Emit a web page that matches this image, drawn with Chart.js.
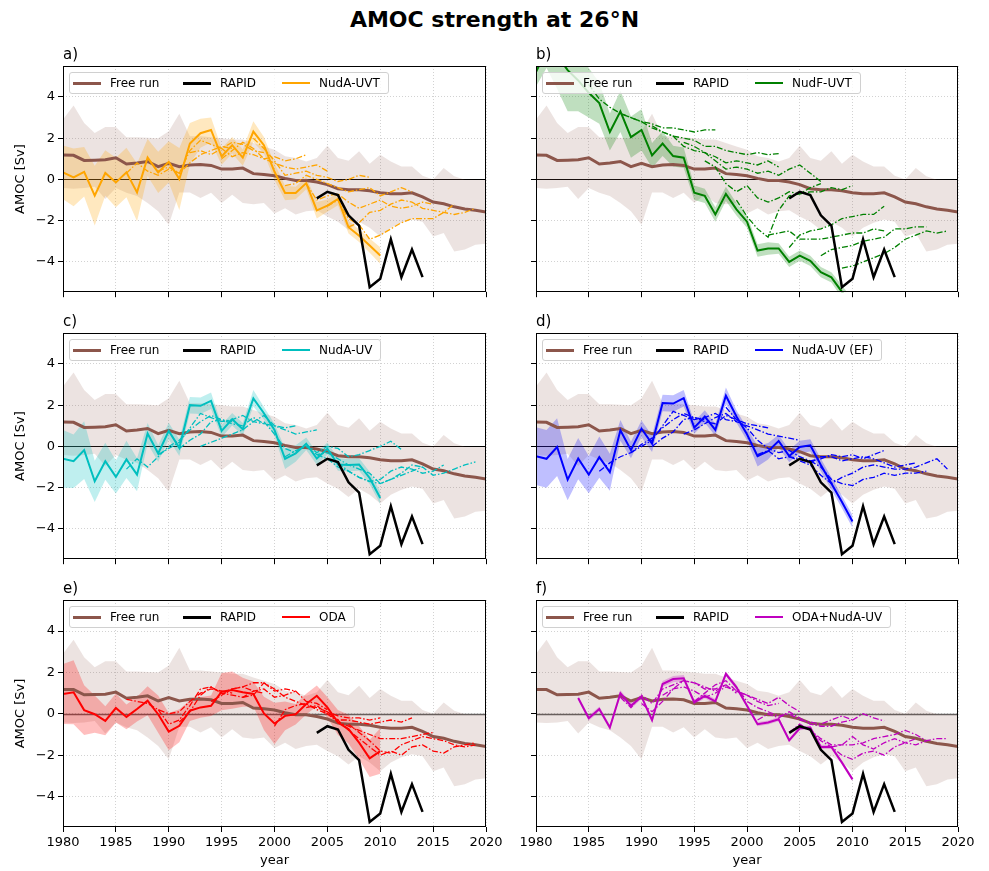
<!DOCTYPE html>
<html>
<head>
<meta charset="utf-8">
<script src="https://cdn.jsdelivr.net/npm/chart.js@4.4.0/dist/chart.umd.min.js"></script>
<style>
  body { margin: 0; background: #fff; width: 989px; height: 871px; position: relative; overflow: hidden;
         font-family: "DejaVu Sans", sans-serif; color: #000; }
  canvas { position: absolute; }
  .suptitle { position: absolute; left: 0; width: 989px; top: 7px; text-align: center;
              font-weight: bold; font-size: 22px; line-height: 26px; }
  .letter { position: absolute; font-size: 15px; line-height: 18px; }
  .legend { position: absolute; height: 22px; box-sizing: border-box; display: flex; align-items: center;
            padding: 0 8px 0 3px; border: 1px solid #d0d0d0; border-radius: 3px;
            background: rgba(255,255,255,0.8); font-size: 12px; white-space: nowrap; }
  .item { display: flex; align-items: center; }
  .sw { width: 28px; margin-right: 9px; }
</style>
</head>
<body>
<div class="suptitle">AMOC strength at 26°N</div>
<script>
// ── data (Sv anomalies) ───────────────────────────────────────────────────
const X_TICKS = [1980, 1985, 1990, 1995, 2000, 2005, 2010, 2015, 2020];
const Y_TICKS = [-4, -2, 0, 2, 4];

// free run ensemble mean + spread, 1980..2020
const freeRun = [1.18, 1.17, 0.92, 0.93, 0.95, 1.05, 0.75, 0.80, 0.87, 0.62, 0.78, 0.62, 0.70, 0.72, 0.68,
                 0.50, 0.50, 0.55, 0.28, 0.24, 0.18, 0.05, -0.05, -0.05, -0.13, -0.25, -0.45, -0.50, -0.50,
                 -0.55, -0.65, -0.70, -0.70, -0.65, -0.85, -1.10, -1.18, -1.33, -1.43, -1.50, -1.58];
const freeHi  = [2.9, 3.58, 2.73, 2.25, 2.54, 2.54, 2.05, 2.05, 2.02, 2.0, 2.33, 3.19, 2.09, 2.09, 2.05,
                 2.0, 1.93, 1.93, 1.76, 1.6, 1.44, 1.12, 1.04, 0.87, 1.04, 1.63, 1.04, 0.9, 1.36, 0.76,
                 1.2, 0.87, 0.63, 0.63, 0.18, 0.0, 0.55, 0.15, -0.02, -0.03, -0.03];
const freeLo  = [-0.42, -0.45, -0.42, -0.35, -0.95, -0.42, -0.65, -0.8, -1.15, -1.55, -2.2, -0.63, -0.63,
                 -0.9, -0.65, -1.15, -0.75, -1.15, -1.2, -1.15, -1.65, -1.4, -1.7, -1.55, -1.5, -1.8,
                 -2.05, -2.45, -2.05, -2.35, -2.77, -2.35, -2.1, -1.95, -2.05, -2.77, -2.6, -3.5, -3.4,
                 -3.17, -3.12];

// RAPID array, 2004..2014
const rapidStart = 2004;
const rapid = [-0.92, -0.6, -0.76, -1.74, -2.24, -5.23, -4.82, -2.9, -4.74, -3.4, -4.74];

// assimilation runs (1980..2010, f from 1984) and their ensemble spread
const mainA = [0.34, 0.1, 0.37, -0.79, 0.31, -0.15, 0.34, -0.63, 1.06, 0.34, 0.85, 0.02, 1.74, 2.24, 2.4,
               1.11, 1.66, 1.06, 2.32, 1.66, 0.37, -0.66, -0.66, -0.18, -1.5, -1.27, -0.95, -2.32, -2.73,
               -3.21, -3.69];
const spreadA = [1.3, 1.4, 1.2, 1.45, 1.1, 1.2, 1.2, 1.4, 0.9, 1.0, 1.0, 1.5, 1.0, 0.7, 0.6, 0.4, 0.4, 0.4,
                 0.5, 0.4, 0.4, 0.35, 0.3, 0.3, 0.4, 0.3, 0.3, 0.3, 0.3, 0.35, 0.4];
const mainB = [5.2, 6.3, 6.0, 5.3, 4.8, 4.2, 3.7, 2.3, 3.3, 2.05, 2.4, 1.16, 1.74, 1.13, 1.05, -0.65, -0.8,
               -1.7, -0.7, -1.45, -2.05, -3.45, -3.35, -3.35, -4.0, -3.7, -3.95, -4.5, -4.75, -5.45, -6.1];
const spreadB = [0.7, 0.9, 1.6, 2.0, 1.5, 1.2, 1.0, 0.9, 1.0, 1.0, 1.0, 0.6, 0.6, 0.5, 0.5, 0.35, 0.35,
                 0.35, 0.35, 0.3, 0.3, 0.3, 0.3, 0.25, 0.25, 0.25, 0.25, 0.25, 0.25, 0.3, 0.3];
const mainC = [-0.6, -0.72, -0.18, -1.69, -0.72, -1.48, -0.63, -1.37, 0.63, -0.34, 0.75, -0.07, 2.0, 1.97,
               2.21, 0.75, 1.32, 0.83, 2.33, 1.61, 0.8, -0.6, -0.34, 0.13, -0.59, -0.11, -0.88, -0.9,
               -0.88, -1.53, -2.5];
const spreadC = [1.4, 1.3, 1.4, 1.0, 0.9, 0.8, 0.9, 0.8, 0.5, 0.4, 0.4, 0.4, 0.4, 0.4, 0.4, 0.3, 0.3, 0.3,
                 0.4, 0.3, 0.3, 0.5, 0.4, 0.3, 0.3, 0.3, 0.3, 0.3, 0.3, 0.3, 0.3];
const mainD = [-0.47, -0.6, -0.03, -1.61, -0.59, -1.37, -0.52, -1.25, 0.78, -0.18, 0.86, 0.13, 2.1, 2.08,
               2.34, 0.91, 1.45, 0.8, 2.46, 1.45, 0.59, -0.47, -0.23, 0.26, -0.47, -0.03, 0.05, -0.9,
               -1.8, -2.7, -3.64];
const spreadD = [1.4, 1.4, 1.4, 1.0, 1.0, 0.9, 1.0, 0.9, 0.5, 0.4, 0.4, 0.4, 0.4, 0.4, 0.4, 0.3, 0.3, 0.3,
                 0.4, 0.3, 0.3, 0.5, 0.4, 0.3, 0.3, 0.3, 0.3, 0.3, 0.3, 0.3, 0.3];
const mainE = [0.96, 1.04, 0.18, -0.02, -0.34, 0.28, -0.15, 0.23, 0.63, -0.02, -0.86, -0.58, 0.15, 0.31,
               0.39, 1.07, 1.15, 1.04, 0.96, 0.02, -0.47, -0.1, -0.02, 0.47, 0.87, 0.31, -0.42, -0.74,
               -1.39, -2.15, -1.8];
const spreadE = [1.45, 1.55, 1.2, 0.9, 0.7, 0.7, 0.6, 0.6, 0.7, 0.9, 0.9, 0.8, 0.5, 0.5, 0.5, 0.9, 0.9,
                 0.7, 0.6, 0.8, 1.0, 0.7, 0.5, 0.5, 0.5, 0.5, 0.6, 0.7, 0.8, 0.9, 1.1];
const mainF = [0.76, -0.21, 0.23, -0.66, 0.99, 0.39, 0.83, -0.31, 1.44, 1.68, 1.72, 0.55, 0.87, 0.6, 1.93,
               1.28, 0.39, -0.5, -0.42, -0.26, -1.28, -0.7, -0.66, -1.6, -1.6, -2.36, -3.17];
const spreadF = [0.1, 0.12, 0.12, 0.12, 0.15, 0.15, 0.12, 0.12, 0.15, 0.15, 0.15, 0.12, 0.12, 0.12, 0.12,
                 0.12, 0.1, 0.1, 0.1, 0.1, 0.1, 0.1, 0.1, 0.1, 0.1, 0.1, 0.1];

// hindcasts: [start year, values...]
const hindA = [
  [1986, 0.3, 0.8, 0.4, 0.2, 0.5, 0.3, 0.8, 1.2, 1.4, 1.6, 1.5],
  [1989, 0.4, 0.6, 0.3, 1.4, 1.9, 1.7, 1.5, 1.8, 1.7, 1.4, 1.3],
  [1992, 1.3, 1.4, 1.2, 1.5, 1.1, 1.3, 1.2, 1.0, 1.1, 0.9, 1.0, 1.2],
  [1995, 1.0, 1.4, 1.8, 1.5, 1.0, 0.8, 0.6, 0.5, 0.6, 0.7, 0.4],
  [1998, 2.0, 1.5, 0.9, 0.2, 0.3, 0.4, 0.2, 0.1, -0.1, 0.0, 0.2, 0.1],
  [2001, -0.3, -0.2, 0.2, 0.0, -0.2, -0.4, -0.6, -0.5, -0.4, -0.8, -0.6, -0.4, -0.6],
  [2003, -0.2, -1.0, -0.8, -0.7, -1.1, -1.4, -1.2, -1.0, -1.3, -1.4, -1.3, -1.1, -1.2],
  [2005, -1.3, -1.0, -1.9, -2.2, -2.9, -2.7, -2.4, -2.1, -1.9, -1.9, -1.9, -1.6, -1.2],
  [2007, -2.3, -2.1, -1.6, -1.5, -1.2, -1.0, -1.1, -1.4, -1.5, -1.6, -1.7, -1.6, -1.4]
];
const hindB = [
  [1985, 4.6, 3.9, 3.5, 3.2, 3.0, 2.8, 2.7, 2.5, 2.5, 2.4, 2.3, 2.4, 2.4],
  [1988, 3.2, 3.0, 2.8, 2.5, 2.3, 2.1, 2.0, 1.9, 1.6, 1.6, 1.4, 1.3, 1.2, 1.3, 1.2, 1.25],
  [1991, 2.6, 2.3, 2.1, 1.6, 1.4, 1.3, 1.1, 0.8, 0.9, 0.8, 0.7, 0.9, 0.6],
  [1994, 1.8, 1.6, 1.3, 0.9, 0.5, 0.6, 0.5, 0.3, 0.4, 0.2, 0.5, 0.7, 0.3, -0.1],
  [1996, 0.9, 0.6, -0.2, -0.6, -0.3, -0.9, -1.1, -0.9, -0.6, -0.7, -0.4, -0.2],
  [1999, -1.0, -1.8, -2.4, -2.8, -1.5, -0.8, -0.7, -0.6, -0.6, -0.4, -0.5, -0.3],
  [2002, -2.7, -2.6, -2.5, -2.9, -2.9, -2.9, -2.8, -2.7, -2.6, -2.6, -2.4, -2.5],
  [2004, -3.3, -2.7, -2.5, -2.4, -2.2, -1.9, -1.8, -1.7, -1.7, -1.3],
  [2007, -3.7, -3.4, -3.3, -3.2, -3.0, -2.9, -2.8, -2.4, -2.4, -2.3, -2.3],
  [2009, -4.3, -4.2, -4.0, -3.8, -3.6, -3.3, -2.9, -2.7, -2.5, -2.6, -2.5]
];
const hindC = [
  [1986, -1.1, -0.6, -1.0, -0.5, 0.0, 0.3, 0.8, 1.2, 1.5, 1.3, 1.2],
  [1989, -0.4, -0.1, 0.2, 0.9, 1.6, 1.4, 1.2, 1.3, 1.5, 1.2, 1.1],
  [1991, -0.1, 0.3, 0.6, 1.2, 1.3, 1.1, 1.0, 1.4, 1.1, 1.0, 0.9, 1.0],
  [1993, 0.0, 0.2, 0.4, 0.6, 0.8, 1.2, 1.5, 1.0, 0.8, 0.6, 0.7, 0.8],
  [1999, 1.2, 0.6, -0.1, -0.3, 0.1, -0.3, 0.0, -0.1, -0.5, -0.4, -0.2, 0.0, 0.25, -0.15],
  [2001, -0.5, -0.2, 0.0, -0.4, -0.3, -0.6, -0.9, -1.1, -1.3, -1.8, -1.6, -1.3, -0.9, -1.0],
  [2004, -0.4, -0.6, -1.0, -1.2, -1.5, -1.7, -1.6, -1.2, -1.0, -1.1, -1.3, -1.2, -0.9],
  [2006, -0.8, -1.2, -1.5, -1.7, -1.8, -1.6, -1.4, -1.2, -1.0, -1.4, -1.3, -1.1, -0.9, -0.75]
];
const hindD = [
  [1986, -1.2, -0.8, -0.5, -0.3, 0.1, 0.4, 0.9, 1.3, 1.6, 1.4, 1.3],
  [1989, -0.3, 0.0, 0.3, 1.0, 1.7, 1.5, 1.3, 1.4, 1.6, 1.3, 1.2],
  [1991, 0.0, 0.4, 0.7, 1.3, 1.4, 1.2, 1.1, 1.5, 1.3, 1.1, 1.0, 0.9],
  [1994, 0.6, 0.8, 1.1, 1.4, 1.6, 1.2, 1.0, 0.8, 0.6, 0.5, 0.4, 0.3],
  [1998, 1.9, 1.3, 0.9, 0.3, -0.1, -0.3, -0.2, -0.5, -0.7, -0.6, -0.4, -0.5, -0.4, -0.6, -0.4, -0.2],
  [2001, -0.4, -0.2, -0.6, -0.5, -0.6, -0.8, -0.5, -0.5, -0.7, -0.6, -0.5, -0.6, -0.8, -1.0, -0.9, -0.8],
  [2004, -0.5, -0.7, -0.9, -1.4, -1.8, -1.5, -1.3, -1.0, -0.9, -1.0, -1.1, -1.1, -1.0, -0.8, -0.6, -1.1],
  [2006, -0.7, -1.0, -1.6, -1.8, -1.9, -1.6, -1.5, -1.3, -1.4, -1.3, -1.3, -1.2]
];
const hindE = [
  [1986, 0.7, 0.6, 0.5, 0.2, 0.0, 0.1, 0.6, 1.0, 1.2, 1.1, 1.0],
  [1989, 0.2, -0.5, -0.3, 0.4, 1.2, 1.3, 1.0, 1.2, 1.3, 1.1, 1.0],
  [1991, -0.4, 0.1, 0.9, 1.3, 1.0, 0.9, 0.8, 1.1, 1.2, 0.8, 0.9, 1.1],
  [1994, 0.6, 0.9, 1.2, 1.3, 1.5, 1.5, 1.1, 1.2, 1.1, 0.6, 0.5, 0.2],
  [1997, 0.8, 0.9, 1.5, 1.2, 0.8, 0.6, 0.4, 0.3, 0.1, -0.1, -0.2, -0.2, -0.3, -0.2],
  [2000, -0.6, 0.2, 0.4, 0.5, 0.2, 0.0, -0.3, -0.3, -0.4, -0.5, -0.4, -0.3, -0.4, -0.2],
  [2003, 0.3, 0.4, 0.0, -0.4, -0.6, -0.8, -1.0, -1.2, -1.2, -1.2, -1.1, -1.0, -0.9],
  [2005, 0.1, -0.3, -0.8, -1.2, -1.6, -2.0, -1.8, -2.0, -1.6, -1.5, -1.8, -1.9, -1.6, -1.5, -1.4],
  [2007, -0.5, -0.9, -1.3, -1.8, -1.9, -1.5, -1.3, -1.1, -1.2, -1.3, -1.5, -1.6, -1.5]
];
const hindF = [
  [1988, 0.8, 0.3, 0.9, 0.5, 1.2, 1.4, 1.6, 1.5, 1.2, 1.2, 1.4],
  [1990, 0.5, 0.1, 0.6, 1.2, 1.6, 1.5, 1.3, 1.1, 1.4, 1.0],
  [1992, 0.9, 1.2, 1.3, 1.1, 0.8, 1.0, 1.3, 1.1, 0.9, 0.6, 0.4, 0.5],
  [1995, 0.6, 1.0, 1.4, 1.6, 1.1, 0.9, 0.7, 0.5, 0.8, 0.4, 0.1],
  [1998, 1.9, 1.3, 0.6, 0.3, 0.1, -0.1, 0.0, -0.3, -0.4, -0.5, -0.3, -0.1, -0.3],
  [2001, -0.3, 0.0, -0.2, 0.1, -0.2, -0.5, -0.6, -0.6, -0.4, -0.3, 0.0, -0.2, -0.34],
  [2004, -0.9, -0.5, -0.8, -1.2, -1.5, -1.5, -1.5, -1.4, -1.2, -1.1, -1.0, -0.8, -1.0, -1.3, -1.2, -1.2],
  [2006, -0.8, -1.3, -1.6, -2.0, -2.2, -1.9, -1.8, -2.0, -1.6, -1.4, -1.2],
  [2008, -1.6, -1.5, -1.1, -1.5, -1.7, -1.4, -1.2, -1.4, -1.5, -1.3]
];

// ── layout / style ────────────────────────────────────────────────────────
const BROWN = '#8c564b';
const COLS = [
  { left: 0,   width: 520, plotLeft: 63,  yW: 63, padR: 34, labels: true },
  { left: 495, width: 494, plotLeft: 536, yW: 41, padR: 31, labels: false }
];
const ROWS = [
  { top: 40,  plotTop: 66,  xH: 10, labels: false },
  { top: 307, plotTop: 333, xH: 10, labels: false },
  { top: 574, plotTop: 600, xH: 44, labels: true }
];
const PLOT_H = 227, PAD_T = 26;

const PANELS = [
  { letter: 'a)', col: 0, row: 0, name: 'NudA-UVT',     color: '#ffa500', band: 'rgba(255,165,0,0.25)', start: 1980, main: mainA, spread: spreadA, hind: hindA, zero: '#000', zw: 1 },
  { letter: 'b)', col: 1, row: 0, name: 'NudF-UVT',     color: '#008000', band: 'rgba(0,128,0,0.25)',   start: 1980, main: mainB, spread: spreadB, hind: hindB, zero: '#000', zw: 1 },
  { letter: 'c)', col: 0, row: 1, name: 'NudA-UV',      color: '#00bfbf', band: 'rgba(0,191,191,0.25)', start: 1980, main: mainC, spread: spreadC, hind: hindC, zero: '#000', zw: 1 },
  { letter: 'd)', col: 1, row: 1, name: 'NudA-UV (EF)', color: '#0000ff', band: 'rgba(0,0,255,0.25)',   start: 1980, main: mainD, spread: spreadD, hind: hindD, zero: '#000', zw: 1 },
  { letter: 'e)', col: 0, row: 2, name: 'ODA',          color: '#ff0000', band: 'rgba(255,0,0,0.25)',   start: 1980, main: mainE, spread: spreadE, hind: hindE, zero: '#606060', zw: 1.6 },
  { letter: 'f)', col: 1, row: 2, name: 'ODA+NudA-UV',  color: '#bf00bf', band: 'rgba(191,0,191,0.25)', start: 1984, main: mainF, spread: spreadF, hind: hindF, zero: '#606060', zw: 1.6 }
];

Chart.defaults.font.family = '"DejaVu Sans", sans-serif';
Chart.defaults.font.size = 13;
Chart.defaults.color = '#000';

const series = (start, vals) => vals.map((v, i) => ({ x: start + i, y: v }));
const fmt = v => (v < 0 ? '\u2212' + Math.abs(v) : String(v));

// frame + zero line, matplotlib style
const framePlugin = {
  id: 'frame',
  beforeDatasetsDraw(chart, args, opts) {
    const { ctx, chartArea: a, scales: { y } } = chart;
    const y0 = Math.round(y.getPixelForValue(0)) + 0.5;
    ctx.save();
    ctx.strokeStyle = opts.zero;
    ctx.lineWidth = opts.width;
    ctx.beginPath(); ctx.moveTo(a.left, y0); ctx.lineTo(a.right, y0); ctx.stroke();
    ctx.restore();
  },
  afterDatasetsDraw(chart) {
    const { ctx, chartArea: a } = chart;
    ctx.save();
    ctx.strokeStyle = '#000';
    ctx.lineWidth = 1;
    ctx.strokeRect(Math.round(a.left) + 0.5, Math.round(a.top) + 0.5,
                   Math.round(a.right - a.left) - 1, Math.round(a.bottom - a.top) - 1);
    ctx.restore();
  }
};

function buildDatasets(p) {
  const ds = [];
  ds.push({ data: series(rapidStart, rapid), borderColor: '#000', borderWidth: 2.5, order: 1 });
  ds.push({ data: series(p.start, p.main), borderColor: p.color, borderWidth: 2, order: 2 });
  p.hind.forEach(h => ds.push({
    data: series(h[0], h.slice(1)), borderColor: p.color, borderWidth: 1.3,
    borderDash: [6, 2, 1.5, 2], order: 3
  }));
  ds.push({ data: series(1980, freeRun), borderColor: BROWN, borderWidth: 3, order: 4 });
  ds.push({ data: series(p.start, p.main.map((v, i) => v + p.spread[i])), borderWidth: 0,
            backgroundColor: p.band, fill: '+1', order: 5 });
  ds.push({ data: series(p.start, p.main.map((v, i) => v - p.spread[i])), borderWidth: 0, order: 5 });
  ds.push({ data: series(1980, freeHi), borderWidth: 0, backgroundColor: 'rgba(140,86,75,0.17)',
            fill: '+1', order: 6 });
  ds.push({ data: series(1980, freeLo), borderWidth: 0, order: 6 });
  return ds;
}

function addLegend(p, col, row) {
  const box = document.createElement('div');
  box.className = 'legend';
  box.style.left = (col.plotLeft + 6) + 'px';
  box.style.top = (row.plotTop + 6) + 'px';
  const items = [['Free run', BROWN, 3, 110], ['RAPID', '#000', 3, 99], [p.name, p.color, 2, 0]];
  items.forEach(([txt, c, lw, w]) => {
    const it = document.createElement('div');
    it.className = 'item';
    if (w) it.style.width = w + 'px';
    const sw = document.createElement('div');
    sw.className = 'sw';
    sw.style.borderTop = lw + 'px solid ' + c;
    const t = document.createElement('span');
    t.textContent = txt;
    it.appendChild(sw); it.appendChild(t);
    box.appendChild(it);
  });
  document.body.appendChild(box);
}

PANELS.forEach(p => {
  const col = COLS[p.col], row = ROWS[p.row];
  const h = PAD_T + PLOT_H + row.xH;
  const cv = document.createElement('canvas');
  cv.width = col.width; cv.height = h;
  cv.style.left = col.left + 'px'; cv.style.top = row.top + 'px';
  cv.style.width = col.width + 'px'; cv.style.height = h + 'px';
  document.body.appendChild(cv);

  new Chart(cv.getContext('2d'), {
    type: 'line',
    data: { datasets: buildDatasets(p) },
    options: {
      responsive: false,
      animation: false,
      events: [],
      layout: { padding: { left: 0, right: col.padR, top: PAD_T, bottom: 0 } },
      elements: { point: { radius: 0 }, line: { tension: 0, fill: false } },
      plugins: { legend: { display: false }, tooltip: { enabled: false }, frame: { zero: p.zero, width: p.zw } },
      scales: {
        x: {
          type: 'linear', min: 1980, max: 2020,
          afterBuildTicks: s => { s.ticks = X_TICKS.map(v => ({ value: v })); },
          afterFit: s => { s.height = row.xH; },
          ticks: { autoSkip: false, maxRotation: 0, padding: 3, color: '#000',
                   callback: v => (row.labels ? String(v) : '') },
          grid: { color: '#d2d2d2', lineWidth: 1, tickColor: '#000', tickLength: 5, tickWidth: 1 },
          border: { display: false, dash: [1, 2] },
          title: { display: row.labels, text: 'year', color: '#000', padding: { top: 0, bottom: 3 } }
        },
        y: {
          type: 'linear', min: -5.47, max: 5.5,
          afterBuildTicks: s => { s.ticks = Y_TICKS.map(v => ({ value: v })); },
          afterFit: s => { s.width = col.yW; },
          ticks: { padding: 3, color: '#000', callback: v => (col.labels ? fmt(v) : '') },
          grid: { color: '#d2d2d2', lineWidth: 1, tickColor: '#000', tickLength: 5, tickWidth: 1 },
          border: { display: false, dash: [1, 2] },
          title: { display: col.labels, text: 'AMOC [Sv]', color: '#000', padding: { top: 13, bottom: 0 } }
        }
      }
    },
    plugins: [framePlugin]
  });

  const lt = document.createElement('div');
  lt.className = 'letter';
  lt.textContent = p.letter;
  lt.style.left = col.plotLeft + 'px';
  lt.style.top = (row.plotTop - 21) + 'px';
  document.body.appendChild(lt);

  addLegend(p, col, row);
});
</script>
</body>
</html>
